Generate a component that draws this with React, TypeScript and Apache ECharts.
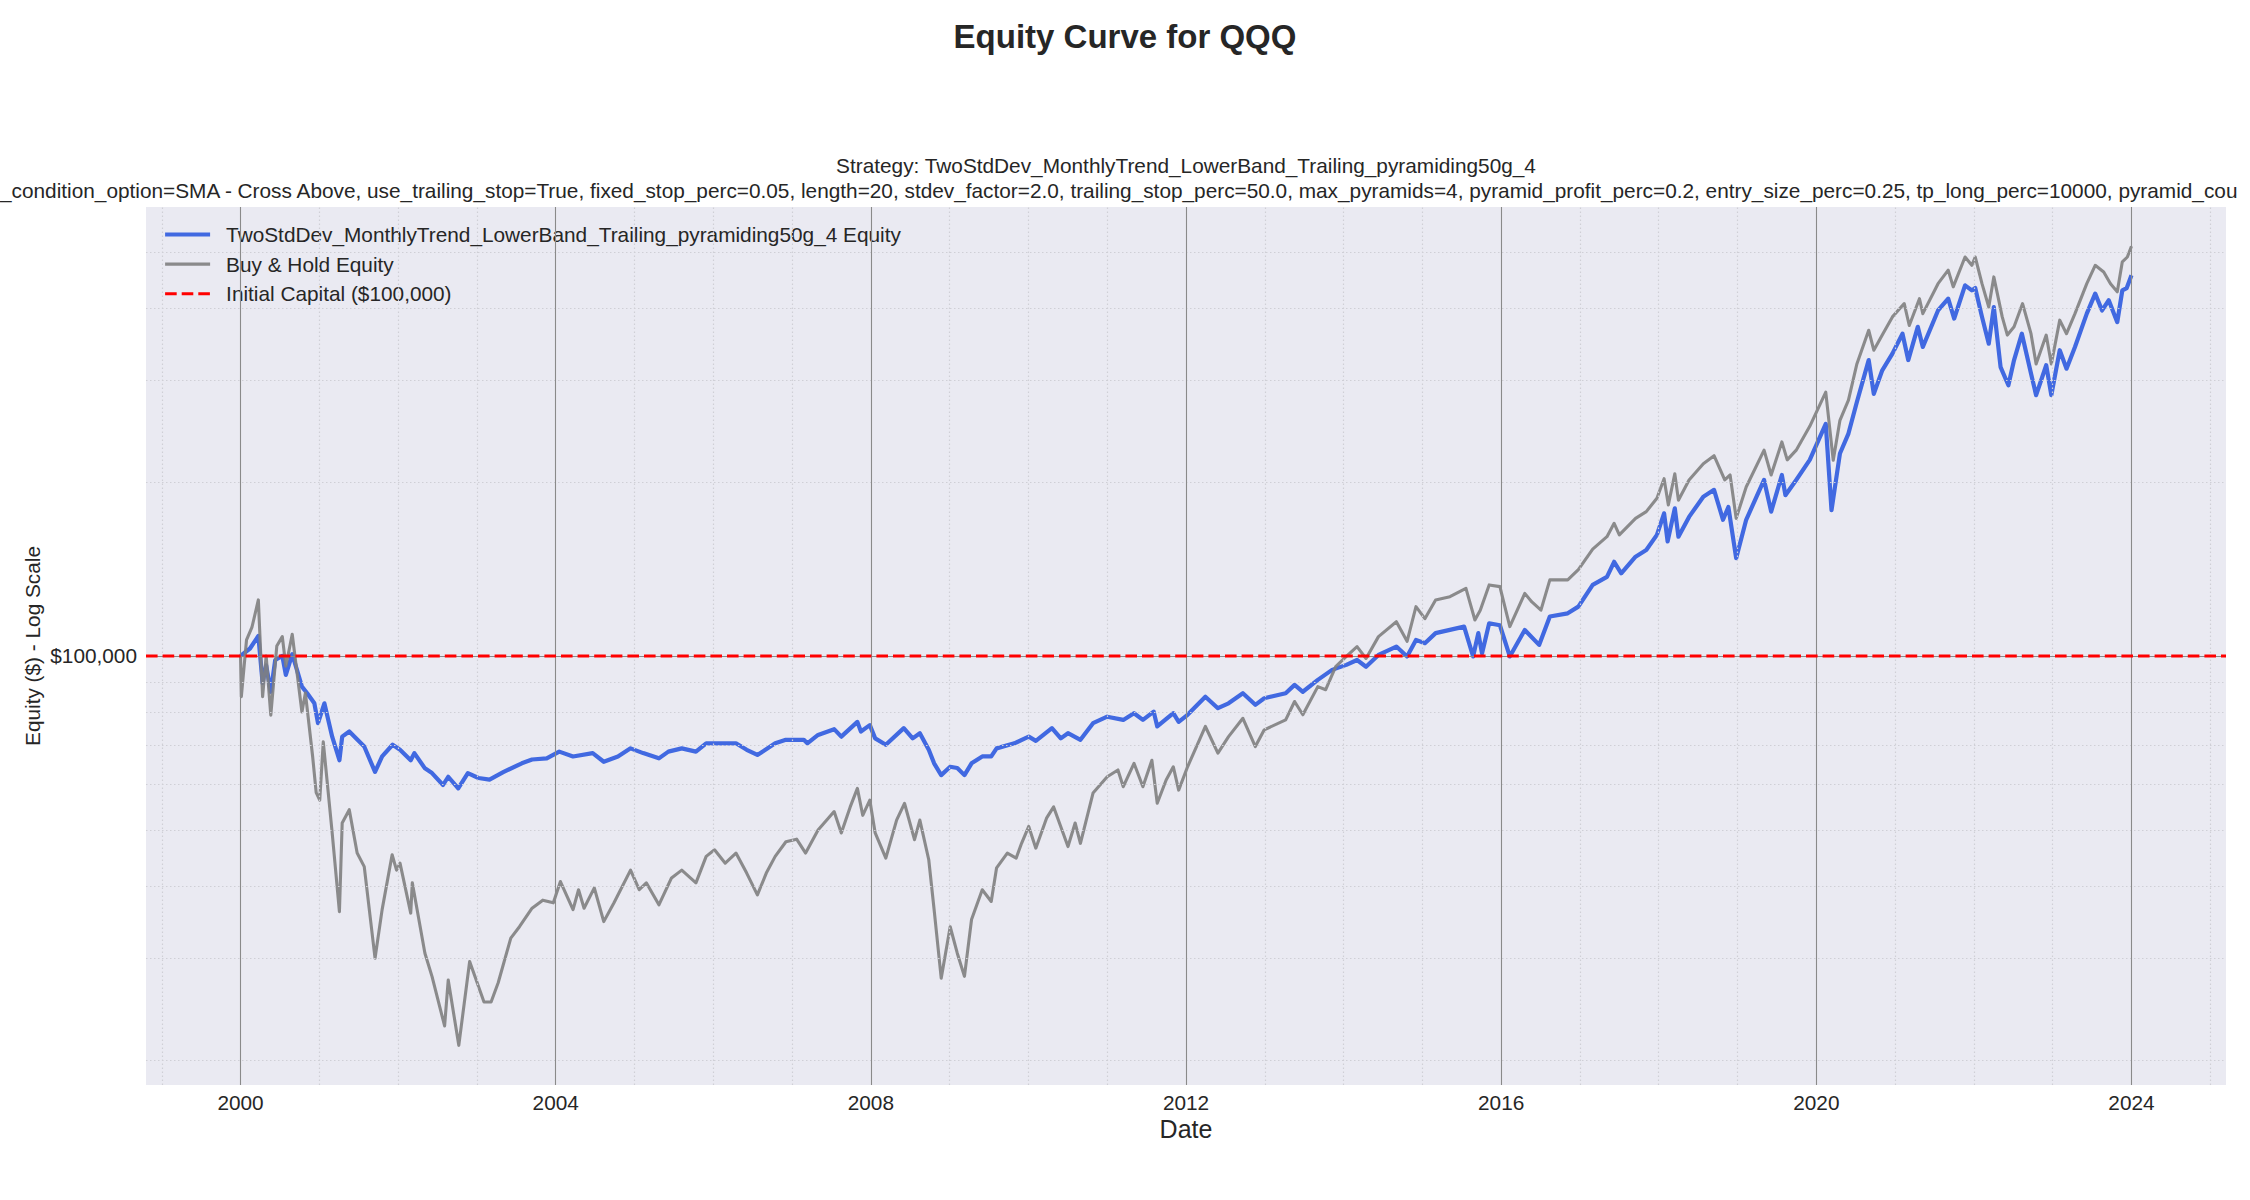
import { useEffect, useRef } from "react";
import * as echarts from "echarts";

const FONT = "'Liberation Sans', Arial, sans-serif";
const INK = "#262626";

const strategyName = "TwoStdDev_MonthlyTrend_LowerBand_Trailing_pyramiding50g_4 Equity";
const buyHoldName = "Buy & Hold Equity";
const capitalName = "Initial Capital ($100,000)";

const initialCapital = 100000;
const xTickYears = [2000, 2004, 2008, 2012, 2016, 2020, 2024];
const minorYears = [1999, 2001, 2002, 2003, 2005, 2006, 2007, 2009, 2010, 2011, 2013, 2014, 2015, 2017, 2018, 2019, 2021, 2022, 2023, 2025];
const minorLevels = [20000, 30000, 40000, 50000, 60000, 70000, 80000, 90000, 200000, 300000, 400000, 500000];

// decimal years
const strategyYears = [
  2000.0, 2000.12, 2000.226, 2000.28, 2000.325, 2000.384, 2000.44, 2000.53, 2000.575, 2000.656,
  2000.779, 2000.846, 2000.937, 2000.983, 2001.064, 2001.163, 2001.255, 2001.29, 2001.38, 2001.57,
  2001.707, 2001.797, 2001.93, 2002.024, 2002.16, 2002.206, 2002.34, 2002.43, 2002.57, 2002.636,
  2002.763, 2002.885, 2003.02, 2003.16, 2003.34, 2003.57, 2003.7, 2003.886, 2004.045, 2004.22,
  2004.47, 2004.61, 2004.79, 2004.95, 2005.11, 2005.31, 2005.43, 2005.6, 2005.78, 2005.91,
  2006.016, 2006.288, 2006.424, 2006.56, 2006.786, 2006.922, 2007.149, 2007.194, 2007.33, 2007.534,
  2007.625, 2007.829, 2007.874, 2007.987, 2008.055, 2008.19, 2008.418, 2008.531, 2008.622, 2008.735,
  2008.803, 2008.893, 2009.007, 2009.097, 2009.188, 2009.278, 2009.414, 2009.528, 2009.596, 2009.822,
  2010.004, 2010.094, 2010.298, 2010.411, 2010.502, 2010.66, 2010.82, 2011.0, 2011.204, 2011.34,
  2011.453, 2011.59, 2011.635, 2011.839, 2011.907, 2012.02, 2012.246, 2012.405, 2012.54, 2012.722,
  2012.88, 2012.993, 2013.265, 2013.378, 2013.483, 2013.673, 2013.854, 2014.035, 2014.171, 2014.285,
  2014.443, 2014.67, 2014.806, 2014.919, 2015.032, 2015.168, 2015.53, 2015.644, 2015.71, 2015.757,
  2015.848, 2015.984, 2016.11, 2016.3, 2016.482, 2016.618, 2016.845, 2016.98, 2017.162, 2017.343,
  2017.434, 2017.524, 2017.706, 2017.842, 2017.977, 2018.068, 2018.113, 2018.204, 2018.25, 2018.385,
  2018.566, 2018.702, 2018.816, 2018.884, 2018.983, 2019.11, 2019.337, 2019.427, 2019.563, 2019.608,
  2019.745, 2019.917, 2020.12, 2020.193, 2020.3, 2020.408, 2020.515, 2020.665, 2020.73, 2020.837,
  2020.966, 2021.094, 2021.167, 2021.288, 2021.352, 2021.545, 2021.674, 2021.75, 2021.888, 2021.974,
  2022.017, 2022.103, 2022.189, 2022.253, 2022.339, 2022.438, 2022.51, 2022.609, 2022.725, 2022.79,
  2022.918, 2022.983, 2023.09, 2023.176, 2023.283, 2023.433, 2023.54, 2023.627, 2023.712, 2023.82,
  2023.884, 2023.94, 2024.0,
];
const strategyValues = [
  100000, 103000, 108300, 89800, 96300, 86700, 98400, 100000, 92700, 100700,
  88500, 86200, 82800, 76500, 82800, 72500, 66000, 72500, 74000, 69700,
  63000, 67000, 70200, 68800, 66000, 67900, 63900, 62700, 59800, 61800,
  59000, 62700, 61500, 61100, 63000, 65200, 66200, 66500, 68300, 67000,
  67900, 65600, 67000, 69200, 67900, 66500, 68300, 69200, 68300, 70600,
  70600, 70600, 68800, 67400, 70600, 71600, 71600, 70600, 73000, 74700,
  72500, 76900, 74000, 75900, 72000, 70200, 75000, 72000, 73500, 68800,
  65200, 62200, 64300, 64000, 62200, 65200, 67000, 67000, 69200, 70600,
  72500, 71300, 75000, 72000, 73500, 71600, 76500, 78500, 77500, 79600,
  77500, 80100, 75500, 79600, 76900, 79100, 85000, 81200, 82800, 86200,
  82300, 84500, 86200, 89100, 86700, 90900, 94600, 96500, 98400, 95800,
  100400, 103800, 99800, 106600, 105200, 109500, 112400, 99800, 109500, 101000,
  113900, 113000, 99800, 110900, 104500, 117000, 118500, 121700, 132700, 137000,
  145500, 139000, 148500, 152500, 162000, 176500, 157800, 180000, 160800, 174000,
  188600, 193800, 172000, 181000, 147600, 172000, 201600, 177700, 205600, 189700,
  201600, 218400, 252000, 178700, 224000, 242500, 275000, 324900, 284000, 312000,
  333500, 361000, 325000, 371000, 342400, 396000, 415000, 383400, 437700, 429000,
  433000, 386000, 346900, 401500, 316000, 294000, 325000, 361000, 308000, 282600,
  318400, 282600, 338000, 314000, 342400, 391000, 423500, 396000, 412600, 378000,
  429000, 433000, 455600,
];

const buyHoldYears = [
  2000.0, 2000.01, 2000.076, 2000.144, 2000.226, 2000.28, 2000.325, 2000.384, 2000.46, 2000.53,
  2000.575, 2000.656, 2000.779, 2000.823, 2000.915, 2000.96, 2001.005, 2001.05, 2001.163, 2001.255,
  2001.29, 2001.38, 2001.48, 2001.57, 2001.707, 2001.797, 2001.924, 2001.98, 2002.024, 2002.16,
  2002.18, 2002.34, 2002.43, 2002.59, 2002.636, 2002.77, 2002.908, 2003.09, 2003.18, 2003.27,
  2003.43, 2003.54, 2003.7, 2003.836, 2003.97, 2004.06, 2004.22, 2004.29, 2004.36, 2004.49,
  2004.61, 2004.74, 2004.95, 2005.06, 2005.15, 2005.31, 2005.47, 2005.6, 2005.78, 2005.91,
  2006.016, 2006.152, 2006.288, 2006.424, 2006.56, 2006.673, 2006.786, 2006.922, 2007.058, 2007.172,
  2007.33, 2007.534, 2007.625, 2007.738, 2007.829, 2007.897, 2007.987, 2008.055, 2008.19, 2008.327,
  2008.427, 2008.554, 2008.622, 2008.735, 2008.803, 2008.893, 2009.007, 2009.097, 2009.188, 2009.278,
  2009.414, 2009.528, 2009.596, 2009.732, 2009.845, 2009.913, 2010.004, 2010.094, 2010.23, 2010.32,
  2010.502, 2010.593, 2010.66, 2010.82, 2011.0, 2011.136, 2011.204, 2011.34, 2011.453, 2011.567,
  2011.635, 2011.748, 2011.839, 2011.907, 2012.02, 2012.133, 2012.246, 2012.405, 2012.54, 2012.722,
  2012.88, 2012.993, 2013.265, 2013.378, 2013.483, 2013.673, 2013.773, 2013.9, 2014.035, 2014.171,
  2014.285, 2014.443, 2014.67, 2014.806, 2014.919, 2015.032, 2015.168, 2015.35, 2015.553, 2015.667,
  2015.735, 2015.848, 2015.984, 2016.11, 2016.3, 2016.39, 2016.505, 2016.618, 2016.845, 2016.98,
  2017.162, 2017.343, 2017.434, 2017.5, 2017.706, 2017.842, 2017.977, 2018.068, 2018.122, 2018.204,
  2018.25, 2018.385, 2018.566, 2018.702, 2018.838, 2018.906, 2018.983, 2019.11, 2019.337, 2019.427,
  2019.563, 2019.631, 2019.745, 2019.917, 2020.12, 2020.215, 2020.3, 2020.408, 2020.515, 2020.665,
  2020.73, 2020.837, 2020.966, 2021.116, 2021.18, 2021.309, 2021.352, 2021.545, 2021.674, 2021.738,
  2021.888, 2021.974, 2022.017, 2022.103, 2022.189, 2022.253, 2022.36, 2022.425, 2022.51, 2022.618,
  2022.725, 2022.79, 2022.918, 2022.983, 2023.09, 2023.176, 2023.283, 2023.433, 2023.54, 2023.648,
  2023.734, 2023.82, 2023.884, 2023.948, 2024.0,
];
const buyHoldValues = [
  100000, 85000, 106600, 112000, 125000, 85000, 100000, 79000, 104000, 108000,
  96000, 109000, 80000, 86300, 67000, 58000, 56300, 71000, 49400, 36100,
  51400, 54200, 45600, 43200, 30000, 36400, 45300, 42600, 43800, 35900,
  40500, 30600, 27900, 22900, 27500, 21200, 29600, 25200, 25200, 27200,
  32500, 34000, 36600, 37800, 37400, 40700, 36400, 39400, 36600, 39700,
  34700, 37400, 42600, 39400, 40500, 37100, 41300, 42600, 40500, 45000,
  46200, 43800, 45600, 42100, 38600, 42100, 45000, 47700, 48200, 45600,
  50000, 53800, 49400, 54800, 59000, 53000, 56300, 49400, 44700, 52000,
  55600, 48100, 52000, 44400, 36400, 27700, 34000, 30600, 27900, 35000,
  39400, 37600, 43000, 45600, 44700, 47400, 50700, 46500, 52400, 54800,
  46800, 51400, 47400, 57900, 61800, 63500, 59400, 65200, 59400, 66000,
  55600, 61000, 64300, 58600, 64300, 69700, 75500, 67900, 72500, 78000,
  69700, 74500, 77500, 83400, 79100, 88500, 87400, 95800, 99800, 103800,
  99000, 108000, 114600, 106000, 121700, 116000, 125000, 126600, 130900, 115400,
  120000, 132700, 131800, 112400, 128300, 124000, 120000, 135400, 135400, 141000,
  153000, 160800, 169600, 162000, 173000, 177700, 187400, 202600, 182500, 206600,
  186000, 201600, 215000, 222000, 201600, 205600, 173000, 196000, 227000, 205600,
  234600, 218400, 227000, 249600, 286000, 218000, 255600, 277000, 320000, 366000,
  338000, 359000, 386000, 407000, 373000, 415000, 391000, 440600, 465000, 435000,
  490000, 474000, 490000, 440600, 401500, 452600, 386000, 359000, 371000, 407000,
  361000, 320000, 359000, 320000, 381000, 361000, 391000, 440600, 474000, 461600,
  440600, 426600, 480600, 490000, 511500,
];

const X_MIN = 1998.8;
const X_MAX = 2025.2;

const pairs = (xs: number[], ys: number[]) => xs.map((x, i) => [x, ys[i]]);

const minorStyle = { color: "#cfcfd6", width: 1.2, type: [1.5, 2.5] as number[] };
const majorStyle = { color: "#8a8a8a", width: 1.1, type: "solid" as const };

const App = () => {
  const chartRef = useRef<HTMLDivElement>(null);

  useEffect(() => {
    if (!chartRef.current) return;
    const chart = echarts.init(chartRef.current, undefined, { renderer: "svg" });

    const gridLines = [
      ...minorYears.map((y) => ({ xAxis: y, lineStyle: minorStyle })),
      ...minorLevels.map((v) => ({ yAxis: v, lineStyle: minorStyle })),
      ...xTickYears.map((y) => ({ xAxis: y, lineStyle: majorStyle })),
      {
        yAxis: initialCapital,
        lineStyle: majorStyle,
        label: {
          show: true,
          position: "start",
          distance: 9,
          formatter: "$100,000",
          fontSize: 20.8,
          color: INK,
          fontFamily: FONT,
        },
      },
    ];

    const option: echarts.EChartsOption = {
      animation: false,
      backgroundColor: "#ffffff",
      title: {
        text: "Equity Curve for QQQ",
        left: "center",
        top: 20,
        padding: 0,
        textStyle: { fontSize: 33, fontWeight: "bold", color: INK, fontFamily: FONT },
      },
      graphic: [
        {
          type: "text",
          x: 1186,
          y: 165,
          style: {
            text: "Strategy: TwoStdDev_MonthlyTrend_LowerBand_Trailing_pyramiding50g_4",
            align: "center",
            verticalAlign: "middle",
            fontSize: 20.8,
            fill: INK,
            fontFamily: FONT,
          },
        },
        {
          type: "text",
          x: 0,
          y: 190,
          style: {
            text: "_condition_option=SMA - Cross Above, use_trailing_stop=True, fixed_stop_perc=0.05, length=20, stdev_factor=2.0, trailing_stop_perc=50.0, max_pyramids=4, pyramid_profit_perc=0.2, entry_size_perc=0.25, tp_long_perc=10000, pyramid_cou",
            align: "left",
            verticalAlign: "middle",
            fontSize: 20.8,
            fill: INK,
            fontFamily: FONT,
          },
        },
        {
          type: "text",
          x: 32,
          y: 646,
          rotation: Math.PI / 2,
          style: {
            text: "Equity ($) - Log Scale",
            align: "center",
            verticalAlign: "middle",
            fontSize: 20.8,
            fill: INK,
            fontFamily: FONT,
          },
        },
        {
          type: "text",
          x: 1186,
          y: 1129,
          style: {
            text: "Date",
            align: "center",
            verticalAlign: "middle",
            fontSize: 25,
            fill: INK,
            fontFamily: FONT,
          },
        },
      ],
      legend: {
        data: [
          { name: strategyName, lineStyle: { width: 4.2 } },
          { name: buyHoldName, lineStyle: { width: 3.1 } },
          { name: capitalName, lineStyle: { width: 3.1 } },
        ],
        orient: "vertical",
        left: 163,
        top: 224,
        padding: 0,
        itemWidth: 45,
        itemHeight: 14,
        itemGap: 8.6,
        itemStyle: { color: "transparent", borderColor: "transparent", borderWidth: 0 },
        textStyle: {
          fontSize: 20.8,
          lineHeight: 21,
          color: INK,
          fontFamily: FONT,
          padding: [0, 0, 0, 11],
        },
      },
      grid: {
        left: 146,
        right: 24,
        top: 207,
        bottom: 115,
        show: true,
        backgroundColor: "#eaeaf2",
        borderWidth: 0,
      },
      xAxis: {
        type: "value",
        min: X_MIN,
        max: X_MAX,
        interval: 0.4,
        axisLine: { show: false },
        axisTick: { show: false },
        splitLine: { show: false },
        axisLabel: {
          margin: 7,
          fontSize: 20.8,
          color: INK,
          fontFamily: FONT,
          formatter: (v: number) => {
            const r = Math.round(v);
            return Math.abs(v - r) < 1e-6 && xTickYears.includes(r) ? String(r) : "";
          },
        },
      },
      yAxis: {
        type: "log",
        logBase: 10,
        min: 18100,
        max: 598000,
        axisLine: { show: false },
        axisTick: { show: false },
        axisLabel: { show: false },
        splitLine: { show: false },
      },
      series: [
        {
          name: "grid",
          type: "line",
          z: 1,
          silent: true,
          data: [[X_MIN, initialCapital]],
          symbol: "none",
          lineStyle: { opacity: 0 },
          markLine: {
            silent: true,
            symbol: "none",
            label: { show: false },
            data: gridLines as any,
          },
        },
        {
          name: strategyName,
          type: "line",
          z: 3,
          data: pairs(strategyYears, strategyValues),
          symbol: "none",
          lineStyle: { color: "#4169e1", width: 4.2, join: "round" },
          itemStyle: { color: "#4169e1" },
        },
        {
          name: buyHoldName,
          type: "line",
          z: 4,
          data: pairs(buyHoldYears, buyHoldValues),
          symbol: "none",
          lineStyle: { color: "#808080", opacity: 0.9, width: 3.1, join: "round" },
          itemStyle: { color: "#808080" },
        },
        {
          name: capitalName,
          type: "line",
          z: 5,
          data: [
            [X_MIN, initialCapital],
            [X_MAX, initialCapital],
          ],
          symbol: "none",
          lineStyle: { color: "#ff0000", width: 3.1, type: [11.6, 5] },
          itemStyle: { color: "#ff0000" },
        },
      ],
    };

    chart.setOption(option);

    return () => {
      chart.dispose();
    };
  }, []);

  return (
    <div
      ref={chartRef}
      style={{ position: "fixed", left: 0, top: 0, width: 2250, height: 1200 }}
    />
  );
};

export default App;
